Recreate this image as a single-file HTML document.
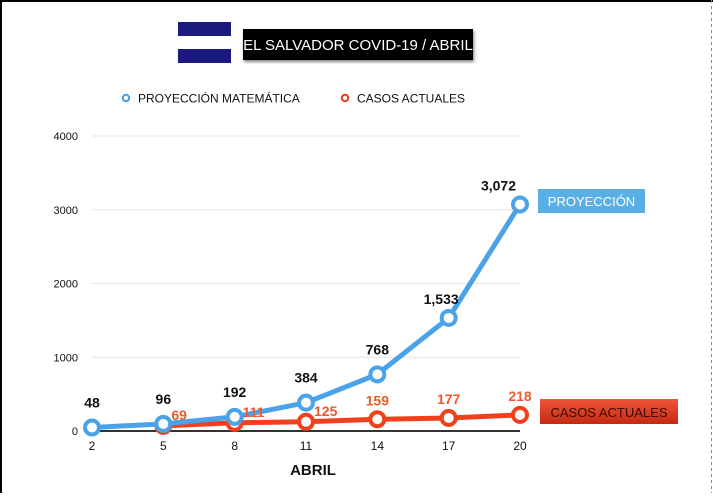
<!DOCTYPE html>
<html><head><meta charset="utf-8"><style>
html,body{margin:0;padding:0;background:#fff;}
body{width:713px;height:493px;overflow:hidden;position:relative;font-family:"Liberation Sans",sans-serif;}
</style></head><body>
<svg width="713" height="493" viewBox="0 0 713 493" xmlns="http://www.w3.org/2000/svg" font-family="Liberation Sans, sans-serif">
<defs>
<linearGradient id="rg" x1="0" y1="0" x2="0" y2="1"><stop offset="0" stop-color="#f0553a"/><stop offset="1" stop-color="#c42a12"/></linearGradient>
<filter id="sh"><feDropShadow dx="1" dy="2" stdDeviation="1.5" flood-opacity="0.5"/></filter>
</defs>
<rect x="0" y="0" width="713" height="2" fill="#000"/>
<rect x="0" y="0" width="2" height="493" fill="#000"/>
<line x1="711.5" y1="0" x2="711.5" y2="493" stroke="#888" stroke-dasharray="3,3"/>
<g>
<rect x="178" y="22" width="53" height="14" fill="#1a1a80"/>
<rect x="178" y="49" width="53" height="14" fill="#1a1a80"/>
</g>
<g filter="url(#sh)">
<rect x="243" y="29" width="230" height="31" fill="#000"/>
</g>
<text x="358" y="50" text-anchor="middle" fill="#fff" font-size="15">EL SALVADOR COVID-19 / ABRIL</text>
<g>
<circle cx="126" cy="98" r="3.2" fill="#fff" stroke="#4a9fe0" stroke-width="2"/>
<text x="138" y="102.5" font-size="12" fill="#111">PROYECCIÓN MATEMÁTICA</text></g>
<g>
<circle cx="345" cy="98" r="3.2" fill="#fff" stroke="#e8401c" stroke-width="2"/>
<text x="357" y="102.5" font-size="12" fill="#111">CASOS ACTUALES</text></g>
<g id="grid"></g><g id="series"></g><g id="labels"></g>
<text x="313" y="475" text-anchor="middle" font-size="15" font-weight="bold" fill="#111">ABRIL</text>
<g>
<rect x="538" y="189" width="107" height="24" fill="#5ab0e4"/>
<text x="591.5" y="206" text-anchor="middle" font-size="13" fill="#fff">PROYECCIÓN</text></g>
<g>
<rect x="540" y="399" width="138" height="25" fill="url(#rg)"/>
<text x="609" y="417" text-anchor="middle" font-size="13" fill="#3a0a00">CASOS ACTUALES</text></g>
</svg>
<script>
const days=[2,5,8,11,14,17,20];
const proyeccion=[48,96,192,384,768,1533,3072];
const proyLabels=["48","96","192","384","768","1,533","3,072"];
const casos=[null,69,111,125,159,177,218];
const casosLabels=["","69","111","125","159","177","218"];
const yTicks=[0,1000,2000,3000,4000];
const NS="http://www.w3.org/2000/svg";
const X=d=>92+(d-2)*(428/18);
const Y=v=>431-v*(295/4000);
function mk(t,a,p){const e=document.createElementNS(NS,t);for(const k in a)e.setAttribute(k,a[k]);p.appendChild(e);return e;}
const grid=document.getElementById('grid'),ser=document.getElementById('series'),lab=document.getElementById('labels');
yTicks.forEach(v=>{
const l=mk('line',{x1:92,x2:520,y1:Y(v),y2:Y(v),stroke:v===0?'#333':'#e6e6e6','stroke-width':v===0?2:1},grid);


const t=mk('text',{x:78,y:Y(v)+4,'text-anchor':'end','font-size':11,fill:'#111'},grid);t.textContent=v;


});
days.forEach(d=>{
const t=mk('text',{x:X(d),y:450,'text-anchor':'middle','font-size':12,fill:'#111'},grid);t.textContent=d;


});
const cPts=days.map((d,i)=>casos[i]==null?null:[X(d),Y(casos[i])]).filter(p=>p);
const cl=mk('polyline',{points:cPts.map(p=>p.join(',')).join(' '),fill:'none',stroke:'#f0401c','stroke-width':5,'stroke-linejoin':'round'},ser);


days.forEach((d,i)=>{if(casos[i]==null)return;
const c=mk('circle',{cx:X(d),cy:Y(casos[i]),r:7,fill:'#fff',stroke:'#f0401c','stroke-width':4},ser);


const right=i<=3;
const t=mk('text',{x:right?X(d)+8:X(d),y:right?Y(casos[i])-6:Y(casos[i])-14,'text-anchor':right?'start':'middle','font-size':14,'font-weight':'bold',fill:'#f05a2a'},lab);t.textContent=casosLabels[i];


});
const pl=mk('polyline',{points:days.map((d,i)=>X(d)+','+Y(proyeccion[i])).join(' '),fill:'none',stroke:'#4aa3e8','stroke-width':5,'stroke-linejoin':'round'},ser);


days.forEach((d,i)=>{
const c=mk('circle',{cx:X(d),cy:Y(proyeccion[i]),r:7,fill:'#fff',stroke:'#4aa3e8','stroke-width':4},ser);


const dx=i===6?-15:(i===5?-14:0);
const t=mk('text',{x:X(d)+dx-(i===6?0:0),y:Y(proyeccion[i])-(i>=5?14:20),'text-anchor':i>=5?'end':'middle','font-size':14,'font-weight':'bold',fill:'#111'},lab);
if(i>=5)t.setAttribute('x',X(d)+(i===6?-4:10));
t.textContent=proyLabels[i];


});
</script>
</body></html>
